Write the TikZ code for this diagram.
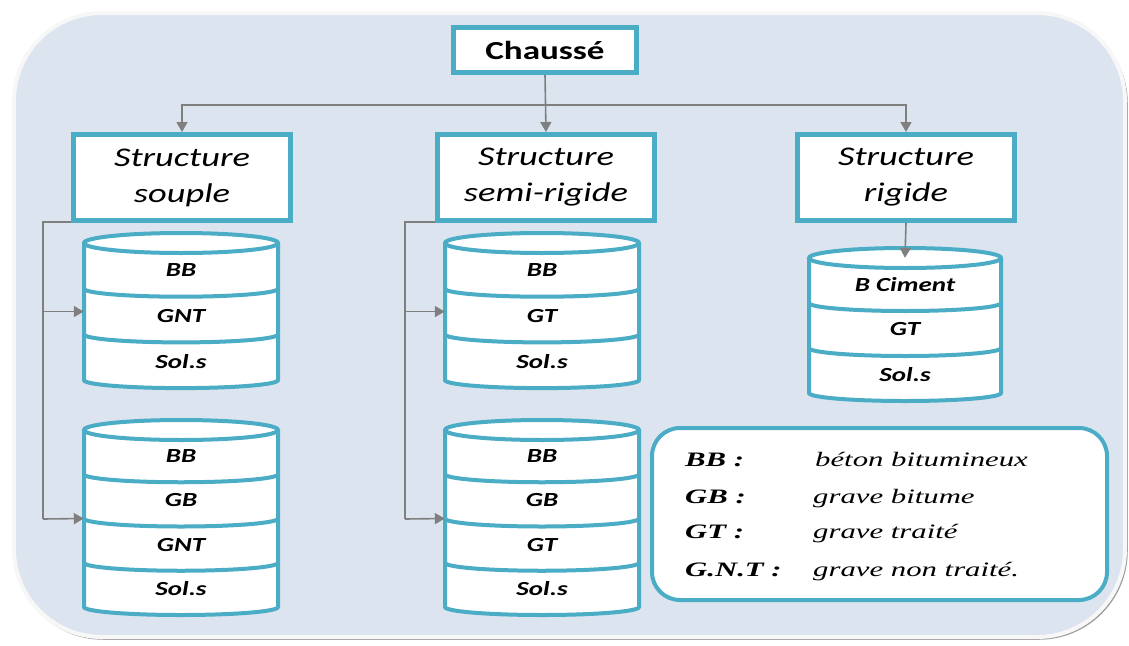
\documentclass[tikz,border=0pt]{standalone}
\usepackage{fontspec}
\usetikzlibrary{arrows.meta}
\newfontfamily\calfont[FakeStretch=1.35]{Carlito}
\newfontfamily\legfont[FakeStretch=1.5]{Liberation Serif}
\definecolor{tealb}{HTML}{4BACC6}
\definecolor{bgblue}{HTML}{DCE4F0}
\definecolor{argrey}{HTML}{7F7F7F}
\tikzset{
  topbox/.style={draw=tealb, line width=5pt, fill=white, inner sep=0pt,
    font=\calfont\bfseries\fontsize{26}{30}\selectfont},
  structbox/.style={draw=tealb, line width=5pt, fill=white, inner sep=0pt,
    minimum width=217pt, minimum height=86pt, align=center,
    font=\calfont\itshape\fontsize{27}{36}\selectfont},
  cylnode/.style={inner sep=0pt, draw=none},
  cylline/.style={draw=tealb, line width=4pt},
  laytext/.style={font=\calfont\bfseries\itshape\fontsize{20}{23}\selectfont},
  conn/.style={draw=argrey, line width=1.6pt},
  arr/.style={conn, -{Triangle[length=10pt,width=11pt]}},
  legbox/.style={draw=tealb, line width=4pt, fill=white, rounded corners=28pt,
    inner sep=0pt},
  legab/.style={anchor=base west, inner sep=0pt,
    font=\legfont\bfseries\itshape\fontsize{20.5}{24}\selectfont},
  legdesc/.style={anchor=base west, inner sep=0pt,
    font=\legfont\itshape\fontsize{20.5}{24}\selectfont},
}
\newcommand{\mycyl}[6]{%
  % #1 name, #2 cx, #3 ytop, #4 half width, #5 layer height, #6 labels
  \gdef\cylcount{0}%
  \foreach \t [count=\i] in {#6} {\xdef\cylcount{\i}}%
  \pgfmathsetmacro\cylbot{#3+\cylcount*#5}%
  \pgfmathtruncatemacro\cylm{\cylcount-1}%
  \node[cylnode, minimum width={2*#4*1pt}, minimum height={\cylcount*#5*1pt}]
    (#1) at (#2, {(#3+\cylbot)/2}) {};
  \filldraw[cylline, fill=white] ({#2-#4}, #3) -- ({#2-#4}, \cylbot)
    arc[start angle=180, end angle=360, x radius={#4*1pt}, y radius=8pt]
    -- ({#2+#4}, #3);
  \draw[cylline, fill=white] (#2, #3) ellipse[x radius={#4*1pt}, y radius=10pt];
  \foreach \j in {1,...,\cylm} {%
    \draw[cylline] ({#2-#4}, {#3+\j*#5})
      arc[start angle=180, end angle=360, x radius={#4*1pt}, y radius=8pt];
  }%
  \foreach \t [count=\i] in {#6} {%
    \node[laytext] (#1-\i) at (#2, {#3+(\i-0.5)*#5+4}) {\t};
  }%
}
\begin{document}
\begin{tikzpicture}[x=1pt, y=-1pt]
\useasboundingbox (0,0) rectangle (1129,645);
% background panel
\draw[gray!75, line width=1.5pt, rounded corners=88pt] (15,15) rectangle (1127,639);
\draw[fill=bgblue, draw=white!94!gray, line width=4pt, rounded corners=88pt]
  (14,13) rectangle (1125,637);

% top boxes
\node[topbox, minimum width=183pt, minimum height=45pt] (ch) at (545,50) {Chaussé};
\node[structbox] (souple) at (182,177.5) {Structure\\souple};
\node[structbox] (semi) at (546,177.5) {Structure\\semi-rigide};
\node[structbox] (rigide) at (906,177.5) {Structure\\rigide};

% cylinders
\mycyl{c1}{181}{243}{97}{45.7}{BB,GNT,Sol.s}
\mycyl{c2}{181}{430}{97}{44.25}{BB,GB,GNT,Sol.s}
\mycyl{c3}{542}{243}{97}{45.7}{BB,GT,Sol.s}
\mycyl{c4}{542}{430}{97}{44.25}{BB,GB,GT,Sol.s}
\mycyl{c5}{905}{258}{96}{45}{B Ciment,GT,Sol.s}

% connectors
\coordinate (j) at (546,105);
\draw[arr] (ch.south) -- (semi.north);
\draw[arr] (j) -| (souple.north);
\draw[arr] (j) -| (rigide.north);
\draw[arr] (rigide.south) -- (c5.north);

\coordinate (sbus) at (43,519);
\draw[conn] (souple.south west) ++(0,-1) -| (sbus);
\draw[arr] (sbus) -- (c2.west);
\draw[arr] (c1.west -| sbus) -- (c1.west);

\coordinate (mbus) at (405,519);
\draw[conn] (semi.south west) ++(0,-1) -| (mbus);
\draw[arr] (mbus) -- (c4.west);
\draw[arr] (c3.west -| mbus) -- (c3.west);

% legend
\node[legbox, minimum width=455pt, minimum height=172pt] (leg) at (879.5,514) {};
\node[legab] (l1) at (685,466) {BB :};
\node[legab] (l2) at (685,503) {GB :};
\node[legab] (l3) at (685,538) {GT :};
\node[legab] (l4) at (685,576) {G.N.T :};
\node[legdesc] (d1) at (815,466) {béton bitumineux};
\node[legdesc] (d2) at (813,503) {grave bitume};
\node[legdesc] (d3) at (813,538) {grave traité};
\node[legdesc] (d4) at (813,576) {grave non traité.};
\end{tikzpicture}
\end{document}
